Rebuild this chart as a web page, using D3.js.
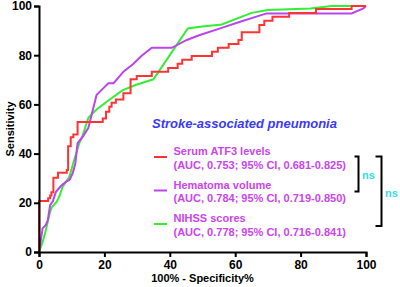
<!DOCTYPE html>
<html>
<head>
<meta charset="utf-8">
<script src="https://cdn.jsdelivr.net/npm/d3@7"></script>
<style>
  body { margin: 0; background: #fff; }
  svg text { font-family: Arial, "Liberation Sans", sans-serif; }
</style>
</head>
<body>
<div id="chart"></div>
<script>
// ROC curves, points are [100% - specificity, sensitivity]
const atf3Points = [[0,0],[0,20.7],[2.8,21.8],[3.4,23],[3.8,24.3],[4.4,30.2],[5.8,32.2],[8.5,33.3],
  [8.9,43],[9.7,46.6],[10.5,47.8],[11.8,52.8],[19.5,54.3],[20.5,57],[21.5,59],[22.2,60.7],[23.5,62],
  [25.8,64.5],[28,70.2],[29.9,71.5],[34.5,73.3],[39.5,74.8],[42.4,76.5],[43.8,78.2],[46.7,79.7],
  [52.9,81.4],[54.7,83],[58,84.6],[61,86.2],[62,89.3],[67.4,92.3],[68.9,94],[71.4,95.6],[76.5,97.2],
  [84.7,98.8],[95.6,100],[100,100]];
const hematomaPoints = [[0,0],[1.1,9.6],[2.1,11],[2.7,13],[3.4,19],[4.2,20.5],[5.2,24.5],[6.7,26.8],
  [8.3,28.6],[9.3,29.3],[10.3,32],[11.1,36],[11.8,44.2],[13.4,46.9],[15.1,50.5],[17.6,63.8],[19.7,66.6],
  [21.2,68.6],[22.8,68.6],[25.9,73.4],[28.8,76.4],[31.4,79.8],[34.5,83],[40.6,83],[45.2,86.2],
  [49.2,88.2],[55.4,90.9],[61.5,93.6],[69.6,97],[95.6,97],[99.2,99],[100,100]];
const nihssPoints = [[0,0],[1.3,4.9],[2.1,8.9],[3.4,16.4],[4,18.4],[5.4,20.4],[6.4,23.2],[7.2,26.5],
  [8.3,28.6],[9.3,30.6],[10.3,35.4],[12.3,44.2],[13.4,47.5],[15.1,54.6],[17.6,57.9],[20.7,61.1],
  [25.5,65.7],[29.5,67.9],[35,70.2],[45.5,90.9],[49.2,91.6],[55.9,92.5],[65,97.2],[70,98.4],
  [83,99],[89.5,100],[100,100]];

const tickValues = [0, 20, 40, 60, 80, 100];
const legendTitle = 'Stroke-associated pneumonia';
const seriesNames = ['Serum ATF3 levels', 'Hematoma volume', 'NIHSS scores'];
const seriesAuc = ['(AUC, 0.753; 95% CI, 0.681-0.825)', '(AUC, 0.784; 95% CI, 0.719-0.850)',
  '(AUC, 0.778; 95% CI, 0.716-0.841)'];
const seriesColors = ['#ff3333', '#bb44ee', '#33ee33'];
const compareLabel = 'ns';

const W = 400, H = 287;
const margin = {top: 6, left: 39, right: 34, bottom: 35};
const width = W - margin.left - margin.right;
const height = H - margin.top - margin.bottom;

const svg = d3.select('#chart').append('svg')
  .attr('width', W).attr('height', H);
const g = svg.append('g')
  .attr('transform', 'translate(' + margin.left + ',' + margin.top + ')');

const x = d3.scaleLinear().domain([0, 100]).range([0, width]);
const y = d3.scaleLinear().domain([0, 100]).range([height, 0]);

// curves (drawn first so the axes sit on top)
const stepLine = d3.line().x(d => x(d[0])).y(d => y(d[1])).curve(d3.curveStepAfter);
const straightLine = d3.line().x(d => x(d[0])).y(d => y(d[1]));

g.append('path').datum(nihssPoints)
  .attr('fill', 'none').attr('stroke', seriesColors[2]).attr('stroke-width', 2)
  .attr('d', straightLine);
g.append('path').datum(hematomaPoints)
  .attr('fill', 'none').attr('stroke', seriesColors[1]).attr('stroke-width', 2)
  .attr('d', straightLine);
g.append('path').datum(atf3Points)
  .attr('fill', 'none').attr('stroke', seriesColors[0]).attr('stroke-width', 2)
  .attr('d', stepLine);

// axes
const xAxis = g.append('g')
  .attr('transform', 'translate(0,' + height + ')')
  .call(d3.axisBottom(x).tickValues(tickValues).tickSize(5).tickPadding(3));
const yAxis = g.append('g')
  .call(d3.axisLeft(y).tickValues(tickValues).tickSize(5).tickPadding(2));

[xAxis, yAxis].forEach(a => {
  a.selectAll('path, line').attr('stroke', '#000').attr('stroke-width', 2);
  a.selectAll('text').attr('fill', '#000')
    .style('font-size', '12px').style('font-weight', 'bold')
    .style('font-family', 'Arial, "Liberation Sans", sans-serif');
});

svg.append('text')
  .attr('x', margin.left + width / 2).attr('y', 282)
  .attr('text-anchor', 'middle')
  .style('font-size', '11px').style('font-weight', 'bold')
  .text('100% - Specificity%');

svg.append('text')
  .attr('transform', 'translate(14,' + (margin.top + height / 2) + ') rotate(-90)')
  .attr('text-anchor', 'middle')
  .style('font-size', '11px').style('font-weight', 'bold')
  .text('Sensitivity');

// legend
svg.append('text')
  .attr('x', 152).attr('y', 128)
  .attr('fill', '#3a3aff')
  .style('font-size', '13px').style('font-weight', 'bold').style('font-style', 'italic')
  .text(legendTitle);

const legend = svg.selectAll('.legend-item')
  .data(seriesNames)
  .enter()
  .append('g')
  .attr('class', 'legend-item')
  .attr('transform', (d, i) => 'translate(0,' + (i * 33.5) + ')');

legend.append('line')
  .attr('x1', 154).attr('x2', 167).attr('y1', 157).attr('y2', 157)
  .attr('stroke', (d, i) => seriesColors[i]).attr('stroke-width', 2);
legend.append('text')
  .attr('x', 173.5).attr('y', 155)
  .attr('fill', '#cc44ee')
  .style('font-size', '11px').style('font-weight', 'bold')
  .text(d => d);
legend.append('text')
  .attr('x', 173.5).attr('y', 168.5)
  .attr('fill', '#cc44ee')
  .style('font-size', '11px').style('font-weight', 'bold')
  .text((d, i) => seriesAuc[i]);

// significance brackets
const brackets = [
  {x: 358.5, y1: 156.5, y2: 191.5, w: 4, lx: 362, ly: 178.5},
  {x: 381.5, y1: 156.5, y2: 226, w: 6, lx: 385, ly: 196.5}
];
brackets.forEach(b => {
  svg.append('path')
    .attr('d', 'M' + (b.x - b.w) + ',' + b.y1 + 'H' + b.x + 'V' + b.y2 + 'H' + (b.x - b.w))
    .attr('fill', 'none').attr('stroke', '#000').attr('stroke-width', 2);
  svg.append('text')
    .attr('x', b.lx).attr('y', b.ly)
    .attr('fill', '#33ddee')
    .style('font-size', '11px').style('font-weight', 'bold')
    .text(compareLabel);
});
</script>
</body>
</html>
